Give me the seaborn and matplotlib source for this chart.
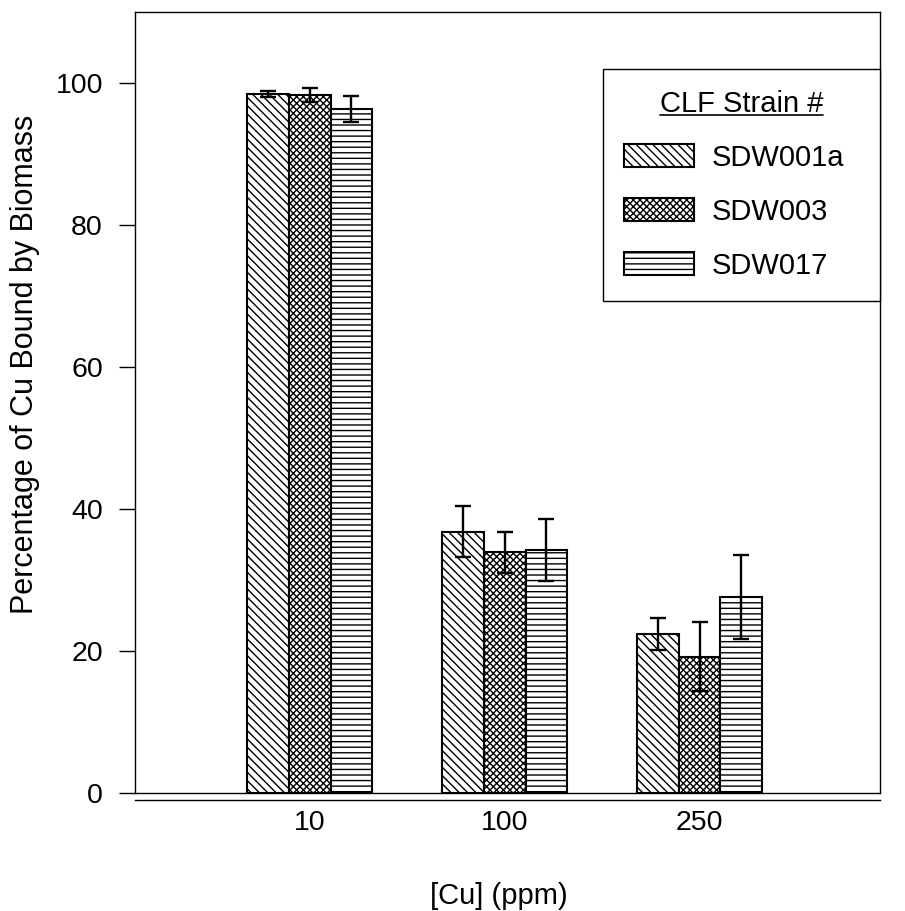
import matplotlib
matplotlib.use("Agg")
import matplotlib.pyplot as plt
from matplotlib.lines import Line2D
import pandas as pd
import seaborn as sns

# [Cu] concentrations (x categories) and strains (hue)
concentrations = ["10", "100", "250"]
strains = ["SDW001a", "SDW003", "SDW017"]

# percentage of Cu bound
sdw001a_mean = [98.4, 36.8, 22.4]
sdw003_mean = [98.3, 33.9, 19.2]
sdw017_mean = [96.3, 34.2, 27.6]

# error bar half-lengths
sdw001a_err = [0.4, 3.6, 2.2]
sdw003_err = [1.0, 2.9, 4.9]
sdw017_err = [1.85, 4.4, 5.95]

y_ticks = [0, 20, 40, 60, 80, 100]
hatches = ["\\\\\\\\", "xxxxx", "---"]

means = [sdw001a_mean, sdw003_mean, sdw017_mean]
errs = [sdw001a_err, sdw003_err, sdw017_err]
rows = []
for strain, m, e in zip(strains, means, errs):
    for conc, v, s in zip(concentrations, m, e):
        rows.append({"conc": conc, "strain": strain, "pct": v, "err": s})
df = pd.DataFrame(rows)

sns.set_style("ticks")
plt.rcParams["font.family"] = ["Liberation Sans", "DejaVu Sans"]
plt.rcParams["hatch.linewidth"] = 1.0
for key in ["text.color", "axes.labelcolor", "xtick.color", "ytick.color"]:
    plt.rcParams[key] = "black"

fig, ax = plt.subplots(figsize=(9.05, 9.11), dpi=100)
fig.subplots_adjust(left=0.149, right=0.972, top=0.987, bottom=0.1295)

sns.barplot(data=df, x="conc", y="pct", hue="strain", order=concentrations,
            hue_order=strains, palette=["white"] * 3, saturation=1,
            edgecolor="black", linewidth=1.5, width=0.64, errorbar=None,
            legend=False, ax=ax)

bar_containers = list(ax.containers)
for container, hatch, strain in zip(bar_containers, hatches, strains):
    xs, ys = [], []
    for bar in container:
        bar.set_hatch(hatch)
        if hatch == "---" and hasattr(bar, "set_hatchcolor"):
            bar.set_hatchcolor("0.4")
        xs.append(bar.get_x() + bar.get_width() / 2)
        ys.append(bar.get_height())
    sub = df[df["strain"] == strain].set_index("conc").loc[concentrations]
    ax.errorbar(xs, ys, yerr=sub["err"].values, fmt="none", ecolor="black",
                elinewidth=1.7, capsize=6, capthick=1.7, zorder=5)

ax.axhline(0, color="black", linewidth=1.0, zorder=1, clip_on=False)

ax.set_xlim(-0.897, 2.923)
ax.set_ylim(0, 110)
ax.set_yticks(y_ticks)

for side in ["top", "right", "left", "bottom"]:
    ax.spines[side].set_visible(True)
    ax.spines[side].set_linewidth(1.0)
    ax.spines[side].set_color("black")
ax.spines["bottom"].set_position(("outward", 5))

ax.tick_params(axis="y", direction="out", length=11.5, width=1.0, pad=11.5,
               labelsize=20.5)
ax.tick_params(axis="x", length=0, pad=7.5, labelsize=20.5)

ax.set_xlabel("[Cu] (ppm)", fontsize=21, labelpad=33, x=0.488)
ax.set_ylabel("Percentage of Cu Bound by Biomass", fontsize=22, labelpad=11,
              y=0.549)

leg = ax.legend(bar_containers, strains, title="CLF Strain #", fontsize=21,
                title_fontsize=21, loc="upper left",
                bbox_to_anchor=(0.628, 0.927, 0.373, 0.0), mode="expand",
                borderaxespad=0, borderpad=0.72, labelspacing=0.89,
                handlelength=2.4, handleheight=0.82, handletextpad=0.62,
                fancybox=False, frameon=True, framealpha=1, edgecolor="black")
leg.get_frame().set_linewidth(1.0)

# underline the legend title
fig.canvas.draw()
bb = leg.get_title().get_window_extent().transformed(fig.transFigure.inverted())
fig.add_artist(Line2D([bb.x0, bb.x1], [bb.y0 + 0.003, bb.y0 + 0.003],
                      transform=fig.transFigure, color="black", linewidth=1.2))

fig.savefig("out.png", dpi=100)
